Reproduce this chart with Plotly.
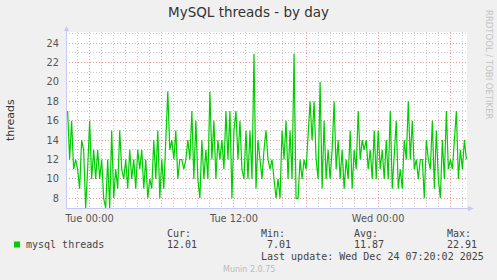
import pandas as pd
import plotly.graph_objects as go

# ---- data (10-minute samples) ----
start_time = "2025-12-22 22:10"
step = "10min"
threads = [
    17, 12, 16, 11, 12, 11, 9, 14, 13, 7,
    11, 16, 10, 13, 10, 13, 10, 12, 8, 7,
    12, 7, 15, 8, 11, 9, 15, 11, 10, 12,
    9, 13, 10, 12, 9, 13, 11, 13, 9, 12,
    8, 10, 9, 14, 10, 15, 8, 12, 9, 14,
    19, 13, 14, 12, 15, 10, 12, 12, 11, 12,
    14, 12, 17, 10, 16, 10, 8, 14, 10, 13,
    10, 19, 12, 16, 10, 14, 12, 14, 11, 17,
    12, 17, 8, 15, 17, 12, 16, 11, 10, 15,
    10, 15, 10, 22.9, 9, 14, 12, 10, 13, 15,
    12, 11, 12, 10, 8, 10, 8, 15, 12, 16,
    10, 15, 10, 22.91, 8, 8, 12, 10, 12, 11,
    14, 18, 14, 18, 12, 10, 20, 9, 16, 10,
    13, 10, 13, 18, 11, 14, 10, 13, 9, 12,
    10, 15, 9, 13, 11, 17, 12, 14, 13, 14,
    11, 13, 10, 15, 10, 15, 11, 13, 10, 14,
    10, 17, 9, 12, 16, 9, 11, 9, 14, 12,
    18, 12, 16, 11, 12, 10, 12, 12, 8, 14,
    12, 11, 16, 9, 15, 10, 8, 14, 10, 17,
    11, 12, 11, 14, 17, 10, 13, 11, 14, 12.01,
]
times = pd.date_range(start=start_time, periods=len(threads), freq=step)

x_range = ["2025-12-22 22:02", "2025-12-24 07:23"]
y_range = [7, 25.15]
tick_times = pd.date_range("2025-12-23 00:00", "2025-12-24 06:00", freq="6h")
tick_text = [t.strftime("%a %H:%M") if t.hour % 12 == 0 else "" for t in tick_times]
y_ticks = list(range(8, 25, 2))

series_name = "mysql threads"
stats_head = ["Cur:", "Min:", "Avg:", "Max:"]
stats_vals = ["12.01", "7.01", "11.87", "22.91"]
last_update = "Last update: Wed Dec 24 07:20:02 2025"

# ---- layout geometry (pixels) ----
W, H = 497, 280
L, R, T, B = 66, 467, 32, 208


def px(x):
    return (x - L) / (R - L)


def py(y):
    return (B - y) / (B - T)


GREEN = "#00cc00"
AXIS = "#c8c8f4"
MAJ = "#e89898"
MIN = "#cacaca"
TXT = "#444444"
SANS = "DejaVu Sans"
MONO = "DejaVu Sans Mono"

fig = go.Figure()
fig.add_trace(go.Scatter(x=times, y=threads, mode="lines",
                         line=dict(color=GREEN, width=1.2), hoverinfo="skip",
                         showlegend=False))

fig.update_layout(
    width=W, height=H, autosize=False,
    margin=dict(l=L, r=W - R, t=T, b=H - B, pad=0),
    paper_bgcolor="#f0f0f0", plot_bgcolor="#ffffff",
    showlegend=False,
    xaxis=dict(
        range=x_range, type="date",
        tickmode="array", tickvals=list(tick_times), ticktext=tick_text,
        showgrid=True, gridcolor=MAJ, griddash="1px,2px", gridwidth=1,
        minor=dict(dtick=3600000, showgrid=True, gridcolor=MIN,
                   griddash="1px,2px", gridwidth=1),
        showline=False, zeroline=False, ticks="",
        tickfont=dict(family=SANS, size=9.8, color="#555555"),
        ticklabelstandoff=3,
    ),
    yaxis=dict(
        range=y_range, tickmode="array", tickvals=y_ticks,
        showgrid=True, gridcolor=MAJ, griddash="1px,2px", gridwidth=1,
        minor=dict(dtick=1, showgrid=True, gridcolor=MIN,
                   griddash="1px,2px", gridwidth=1),
        showline=False, zeroline=False, ticks="",
        tickfont=dict(family=SANS, size=9.8, color="#555555"),
        ticklabelstandoff=6,
    ),
)

shapes = []
# axis lines with arrows
shapes.append(dict(type="line", xref="paper", yref="paper",
                   x0=px(66.5), x1=px(66.5), y0=py(B + 0.5), y1=py(30),
                   line=dict(color=AXIS, width=1)))
shapes.append(dict(type="path", xref="paper", yref="paper",
                   path=f"M {px(64)} {py(31)} L {px(66.5)} {py(26)} L {px(69)} {py(31)} Z",
                   fillcolor=AXIS, line=dict(width=0)))
shapes.append(dict(type="line", xref="paper", yref="paper",
                   x0=px(66), x1=px(470), y0=py(B + 0.5), y1=py(B + 0.5),
                   line=dict(color=AXIS, width=1)))
shapes.append(dict(type="path", xref="paper", yref="paper",
                   path=f"M {px(468)} {py(206)} L {px(474)} {py(208.5)} L {px(468)} {py(211)} Z",
                   fillcolor=AXIS, line=dict(width=0)))
# legend swatch
shapes.append(dict(type="rect", xref="paper", yref="paper",
                   x0=px(14), x1=px(20), y0=py(247.5), y1=py(241.5),
                   fillcolor=GREEN, line=dict(width=0)))
fig.update_layout(shapes=shapes)

ann = []


def text(t, x, y, size, color=TXT, family=SANS, xanchor="left", angle=0):
    ann.append(dict(text=t, x=px(x), y=py(y), xref="paper", yref="paper",
                    showarrow=False, xanchor=xanchor, yanchor="middle",
                    textangle=angle, borderpad=0,
                    font=dict(family=family, size=size, color=color)))


text("MySQL threads - by day", 248.5, 12, 13.5, color="#333333", xanchor="center")
text("threads", 10, 120, 11, color="#333333", xanchor="center", angle=-90)
text("RRDTOOL / TOBI OETIKER", 489, 65, 8.5, color="#c4c4c4", xanchor="center", angle=90)

cols = [167, 261, 354, 447]
for c, h in zip(cols, stats_head):
    text(h, c - 1, 233, 10, family=MONO)
val_cols = [167, 267, 354, 447]
for c, v in zip(val_cols, stats_vals):
    text(v, c - 1, 244.5, 10, family=MONO)
text(series_name, 25, 244.5, 10, family=MONO)
text(last_update, 260, 256, 10, family=MONO)
text("Munin 2.0.75", 248.7, 269.5, 8, color="#bbbbbb", xanchor="center")
fig.update_layout(annotations=ann)

fig.write_html("out.html")
